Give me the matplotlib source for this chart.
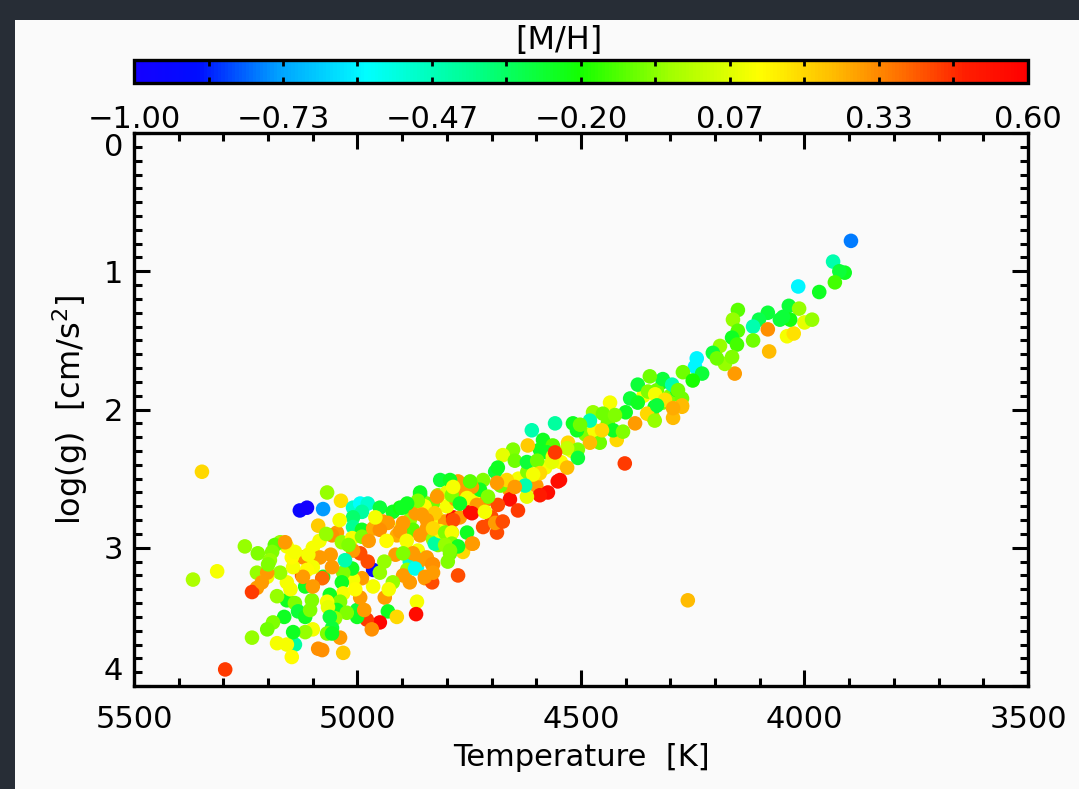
import numpy as np
import matplotlib
matplotlib.use('Agg')
import matplotlib.pyplot as plt
from matplotlib.colors import LinearSegmentedColormap
from matplotlib.patches import Rectangle

# ---- data (Teff [K], log g, [M/H]) ----
# outliers
teff_out = [5348, 5368, 5314, 5296, 5129, 5113, 5077, 4402, 4261]
logg_out = [2.45, 3.23, 3.17, 3.88, 2.73, 2.71, 2.72, 2.39, 3.38]
mh_out = [0.20, -0.02, 0.10, 0.45, -0.95, -1.00, -0.75, 0.45, 0.25]

# dense clump, west part
teff_west = [5068, 5037, 5088, 5010, 4994, 4977, 4990, 4950, 5010, 4956, 4943, 4921,
             4905, 4889, 4860, 4815, 4789, 4820, 4800, 4845, 4831, 5010, 4990, 5046,
             5057, 5035, 5012, 4990, 4965, 4932, 4950, 4900, 4883, 4876, 4860, 4912,
             4845, 4827, 4822, 4804, 4786, 4771, 4748, 4755, 4789, 4800, 4831, 4820,
             4742, 4764, 4793, 4827, 4865, 4845, 4831, 4871, 4883, 4867, 4798, 4775,
             4889, 4883, 4849, 4833, 4867, 4869, 4898, 4921, 4939, 4932, 4912, 4950,
             4979, 4968, 5001, 5001, 4994, 4965, 4977, 4965, 4950, 4990, 5010, 5012,
             5032, 4994, 5010, 5028, 5035, 5032, 5062, 5039, 5046, 5024, 5050, 5057,
             5077, 5057, 5100, 5084, 5122, 5124, 5079, 5100, 5113, 5117, 5102, 5068,
             5066, 5062, 5039, 5032, 5088, 5079, 5068, 5057, 5140, 5158, 5180, 5147,
             5100, 5117, 5144, 5164, 5189, 5202, 5236, 5158, 5140, 5133, 5122, 5158,
             5173, 5144, 5147, 5140, 5158, 5173, 5185, 5191, 5162, 5196, 5223, 5252,
             5225, 5202, 5202, 5225, 5236, 5214, 5117, 5106]
logg_west = [2.60, 2.66, 2.84, 2.71, 2.68, 2.68, 2.74, 2.71, 2.78, 2.80, 2.81, 2.74,
             2.71, 2.71, 2.62, 2.51, 2.53, 2.62, 2.60, 2.68, 2.68, 2.85, 2.87, 2.89,
             2.91, 2.96, 2.93, 2.92, 2.86, 2.82, 2.87, 2.84, 2.80, 2.87, 2.91, 2.91,
             2.86, 2.82, 2.78, 2.81, 2.78, 2.78, 2.74, 2.89, 2.89, 2.93, 2.94, 2.98,
             2.97, 3.03, 3.04, 2.97, 3.02, 3.07, 3.12, 3.07, 3.10, 3.14, 3.10, 3.20,
             3.16, 3.25, 3.22, 3.25, 3.39, 3.48, 3.20, 3.25, 3.36, 3.46, 3.50, 3.54,
             3.52, 3.59, 3.45, 3.50, 3.36, 3.16, 3.10, 3.28, 3.18, 3.22, 3.23, 3.15,
             3.18, 3.04, 3.02, 3.09, 3.25, 3.33, 3.34, 3.39, 3.45, 3.47, 3.51, 3.58,
             3.21, 3.14, 3.00, 3.07, 3.07, 3.20, 3.22, 3.14, 3.16, 3.28, 3.38, 3.39,
             3.43, 3.50, 3.65, 3.76, 3.73, 3.74, 3.62, 3.62, 3.70, 3.70, 3.69, 3.79,
             3.59, 3.61, 3.61, 3.50, 3.54, 3.59, 3.65, 3.38, 3.40, 3.46, 3.21, 3.25,
             3.18, 3.14, 3.07, 3.03, 2.99, 2.96, 2.98, 3.03, 2.96, 3.09, 3.04, 2.99,
             3.18, 3.21, 3.18, 3.29, 3.32, 3.25, 3.50, 3.45]
mh_west = [-0.05, 0.18, 0.22, -0.50, -0.58, -0.50, -0.42, -0.28, -0.35, -0.25, 0.30, -0.25,
           -0.22, -0.25, -0.25, -0.28, -0.22, -0.05, 0.08, -0.08, -0.10, -0.40, -0.25, 0.30,
           0.32, -0.05, 0.10, -0.08, 0.28, 0.30, 0.32, 0.10, -0.05, -0.12, 0.30, 0.28,
           0.30, 0.28, 0.10, 0.30, 0.55, 0.30, 0.55, -0.25, 0.30, 0.20, -0.05, -0.08,
           0.30, 0.20, -0.10, -0.42, 0.10, 0.30, 0.32, -0.58, -0.50, -0.55, -0.08, 0.42,
           -0.05, 0.30, 0.30, 0.42, 0.10, 0.55, 0.30, -0.05, 0.30, -0.25, 0.20, 0.58,
           0.45, 0.32, -0.28, -0.25, 0.30, -0.92, 0.42, 0.10, -0.05, 0.30, 0.10, -0.25,
           -0.08, 0.42, 0.30, -0.45, -0.25, 0.10, -0.25, -0.08, -0.25, -0.08, -0.05, -0.28,
           -0.25, 0.30, 0.10, 0.30, 0.32, 0.42, 0.38, 0.10, 0.12, -0.25, -0.08, 0.10,
           0.08, -0.28, 0.30, 0.22, 0.32, 0.32, -0.08, -0.25, -0.42, 0.10, 0.10, 0.12,
           0.10, -0.05, -0.25, -0.25, -0.08, -0.10, -0.05, -0.25, -0.08, -0.28, 0.30, 0.10,
           -0.05, 0.10, 0.12, 0.10, 0.10, -0.05, -0.12, -0.08, 0.30, -0.05, -0.08, -0.05,
           -0.05, 0.10, 0.30, 0.30, 0.45, 0.30, -0.25, -0.08]

# clump east part and the rising band
teff_band = [4373, 4317, 4350, 4330, 4390, 4373, 4285, 4274, 4335, 4317, 4274, 4294,
             4352, 4335, 4379, 4435, 4473, 4451, 4424, 4480, 4428, 4406, 4458, 4480,
             4453, 4518, 4509, 4502, 4558, 4610, 4585, 4563, 4529, 4507, 4507, 4531,
             4592, 4576, 4619, 4563, 4565, 4531, 4558, 4652, 4675, 4648, 4621, 4598,
             4592, 4607, 4552, 4547, 4574, 4592, 4621, 4659, 4641, 4686, 4625, 4692,
             4686, 4666, 4648, 4688, 4719, 4726, 4708, 4744, 4755, 4733, 4744, 4715,
             4719, 4688, 4692, 4675, 4775, 4789, 4771, 4793, 4786, 4748, 4822, 4827,
             4860, 4865, 4889, 4900, 4856, 4845, 4898, 4831, 4804, 4786, 4744, 4789,
             4789, 4775, 4804, 4793, 4876, 4898, 4860, 4833, 4871, 4831, 4849]
logg_band = [1.82, 1.80, 1.87, 1.86, 1.92, 1.95, 1.86, 1.92, 1.98, 1.95, 1.98, 2.06,
             2.03, 2.08, 2.10, 1.95, 2.02, 2.03, 2.04, 2.08, 2.15, 2.16, 2.24, 2.24,
             2.15, 2.10, 2.15, 2.11, 2.10, 2.15, 2.22, 2.26, 2.24, 2.29, 2.35, 2.28,
             2.29, 2.31, 2.26, 2.34, 2.38, 2.42, 2.31, 2.29, 2.33, 2.37, 2.38, 2.37,
             2.46, 2.47, 2.52, 2.51, 2.60, 2.62, 2.63, 2.65, 2.73, 2.69, 2.55, 2.45,
             2.42, 2.51, 2.56, 2.53, 2.51, 2.58, 2.63, 2.56, 2.64, 2.69, 2.75, 2.74,
             2.85, 2.89, 2.82, 2.81, 2.52, 2.62, 2.68, 2.51, 2.56, 2.52, 2.63, 2.75,
             2.60, 2.66, 2.68, 2.71, 2.76, 2.80, 2.82, 2.86, 2.89, 2.80, 2.97, 2.89,
             2.97, 2.99, 2.98, 3.02, 3.04, 3.04, 3.09, 3.12, 3.15, 3.18, 3.21]
mh_band = [-0.28, -0.25, -0.08, -0.10, -0.28, -0.25, -0.25, -0.10, -0.25, -0.08, 0.25, 0.25,
           0.20, -0.05, 0.30, 0.10, -0.05, -0.10, -0.08, -0.45, -0.25, -0.08, -0.10, 0.25,
           0.20, -0.25, -0.25, -0.10, -0.42, -0.45, -0.25, -0.12, 0.20, -0.08, -0.28, 0.02,
           -0.25, -0.25, 0.22, 0.10, 0.08, 0.25, 0.45, -0.08, 0.08, -0.10, -0.28, -0.10,
           0.20, 0.10, 0.55, 0.55, 0.55, 0.50, 0.08, 0.55, 0.45, 0.42, -0.45, -0.28,
           -0.25, 0.20, 0.30, 0.30, -0.08, -0.25, -0.08, 0.30, 0.10, 0.30, 0.55, 0.10,
           0.42, 0.42, 0.30, 0.42, 0.30, -0.08, -0.25, -0.25, 0.10, -0.12, 0.30, 0.22,
           -0.25, -0.08, -0.25, -0.25, 0.30, 0.30, 0.30, 0.20, -0.08, 0.42, 0.30, 0.10,
           -0.08, -0.25, -0.05, -0.08, 0.30, -0.08, 0.30, 0.32, -0.55, 0.30, 0.30]

# extra stars filling the crowded parts
teff_fill = [4960, 4975, 5020, 4935, 4905, 4890, 4870, 4850, 4915, 4940, 5060, 5085,
             5100, 5150, 5180, 5005, 4985, 4930, 4760, 4740, 4710, 4700, 4660, 4640,
             4620, 4600, 4580, 4545, 4520, 4490, 4470, 4440, 4420, 4400, 4360, 4340,
             4300, 4680, 4800, 4780, 4815, 5040, 5070, 5110, 5200]
logg_fill = [2.78, 2.95, 2.98, 2.95, 2.88, 2.95, 2.75, 2.70, 3.05, 3.10, 3.05, 2.95,
             3.28, 3.30, 3.35, 3.30, 3.45, 3.30, 2.60, 2.65, 2.65, 2.78, 2.58, 2.50,
             2.45, 2.55, 2.42, 2.38, 2.30, 2.18, 2.15, 2.10, 2.22, 2.02, 1.90, 2.05,
             1.90, 2.55, 2.70, 2.65, 2.88, 2.80, 2.90, 3.05, 3.12]
mh_fill = [0.10, 0.30, -0.08, 0.12, 0.30, 0.10, 0.30, 0.12, 0.30, -0.05, 0.30, 0.10,
           0.30, 0.10, -0.05, 0.12, 0.30, 0.10, 0.30, 0.10, 0.32, 0.42, 0.30, 0.10,
           -0.08, 0.30, 0.10, 0.12, 0.10, -0.08, 0.10, -0.10, 0.20, -0.25, 0.10, 0.25,
           -0.08, -0.10, 0.10, 0.30, 0.10, 0.10, -0.05, 0.10, -0.08]

# cool giants at the top of the branch
teff_giant = [3896, 3936, 3910, 3922, 3932, 4014, 3967, 4035, 4012, 4000, 3983, 4039,
              4024, 4055, 4032, 4048, 4082, 4102, 4115, 4082, 4079, 4115, 4149, 4160,
              4149, 4162, 4151, 4156, 4189, 4205, 4178, 4196, 4162, 4241, 4245, 4229,
              4272, 4250, 4317, 4296, 4283, 4334, 4312, 4346, 4274, 4294, 4330]
logg_giant = [0.78, 0.93, 1.01, 1.00, 1.08, 1.11, 1.15, 1.25, 1.27, 1.37, 1.35, 1.47,
              1.45, 1.35, 1.35, 1.33, 1.30, 1.35, 1.40, 1.42, 1.58, 1.50, 1.28, 1.35,
              1.43, 1.48, 1.53, 1.74, 1.54, 1.59, 1.67, 1.63, 1.62, 1.63, 1.69, 1.74,
              1.73, 1.79, 1.78, 1.82, 1.86, 1.89, 1.93, 1.76, 1.97, 1.99, 1.97]
mh_giant = [-0.78, -0.45, -0.25, -0.28, -0.15, -0.60, -0.25, -0.28, -0.05, 0.08, -0.05, 0.10,
            0.18, -0.28, -0.22, -0.28, -0.28, -0.30, -0.45, 0.32, 0.25, -0.10, -0.12, -0.05,
            -0.12, -0.25, -0.15, 0.30, -0.05, -0.28, -0.05, -0.10, -0.08, -0.60, -0.60, -0.28,
            -0.10, -0.20, -0.28, -0.45, -0.10, 0.10, 0.18, -0.10, 0.25, 0.28, -0.28]

teff = np.array(teff_out + teff_west + teff_fill + teff_band + teff_giant)
logg = np.array(logg_out + logg_west + logg_fill + logg_band + logg_giant)
mh = np.array(mh_out + mh_west + mh_fill + mh_band + mh_giant)

cbar_ticks = [-1.0, -0.7333, -0.4667, -0.2, 0.0667, 0.3333, 0.6]
cbar_labels = ['\u22121.00', '\u22120.73', '\u22120.47', '\u22120.20', '0.07', '0.33', '0.60']

# rainbow-like colour table (blue -> cyan -> green -> yellow -> red)
cmap = LinearSegmentedColormap.from_list('idl_rainbow', [
    (0.00, (0.08, 0.0, 1.0)),
    (0.07, (0.0, 0.05, 1.0)),
    (0.16, (0.0, 0.63, 1.0)),
    (0.26, (0.0, 1.0, 1.0)),
    (0.38, (0.0, 1.0, 0.55)),
    (0.50, (0.08, 1.0, 0.0)),
    (0.60, (0.63, 1.0, 0.0)),
    (0.70, (1.0, 1.0, 0.0)),
    (0.78, (1.0, 0.75, 0.0)),
    (0.86, (1.0, 0.43, 0.0)),
    (0.93, (1.0, 0.12, 0.0)),
    (1.00, (1.0, 0.0, 0.0))])

plt.rcParams['font.family'] = 'DejaVu Sans'
fig = plt.figure(figsize=(10.79, 7.89), dpi=100, facecolor='#272d36')
fig.patches.append(Rectangle((15 / 1079, 0), 1, 1 - 20 / 789, transform=fig.transFigure,
                             facecolor='#fafafa', edgecolor='none', zorder=-10))

ax = fig.add_axes([0.1242, 0.1305, 0.8285, 0.7009])
ax.set_facecolor('#fafafa')
sc = ax.scatter(teff, logg, c=mh, cmap=cmap, vmin=-1.0, vmax=0.6, s=110, edgecolors='none')

ax.set_xlim(5500, 3500)
ax.set_ylim(4, 0)
ax.set_xticks([5500, 5000, 4500, 4000, 3500])
ax.set_xticks(np.arange(3500, 5501, 100), minor=True)
ax.set_yticks([0, 1, 2, 3, 4])
ax.set_yticks(np.arange(0, 4.01, 0.1), minor=True)
ax.tick_params(which='both', direction='in', top=True, right=True, width=2.2)
ax.tick_params(which='major', length=11.5, labelsize=22)
ax.tick_params(which='minor', length=5.5)
ax.tick_params(axis='x', pad=14)
ax.tick_params(axis='y', pad=8)
for sp in ax.spines.values():
    sp.set_linewidth(2.4)
# end labels sit inside the axis range, as in the original
ylabs = ax.get_yticklabels()
ylabs[0].set_va('top')
ylabs[-1].set_va('bottom')

ax.set_xlabel('Temperature  [K]', fontsize=22, labelpad=6)
ax.set_ylabel(r'log(g)  [cm/s$^2$]', fontsize=23, labelpad=10)

# colour bar on top
cax = fig.add_axes([0.1242, 0.8948, 0.8285, 0.029])
cb = fig.colorbar(sc, cax=cax, orientation='horizontal')
cb.set_ticks(cbar_ticks)
cb.set_ticklabels(cbar_labels)
cax.set_xticks([(a + b) / 2 for a, b in zip(cbar_ticks[:-1], cbar_ticks[1:])], minor=True)
cax.tick_params(which='both', direction='in', top=True, bottom=True, length=4, width=2,
                labelsize=22, pad=16)
cb.outline.set_linewidth(2.4)
fig.text(559 / 1079, 1 - 41 / 789, '[M/H]', ha='center', va='center', fontsize=23)

fig.savefig('out.png', dpi=100, facecolor=fig.get_facecolor())
